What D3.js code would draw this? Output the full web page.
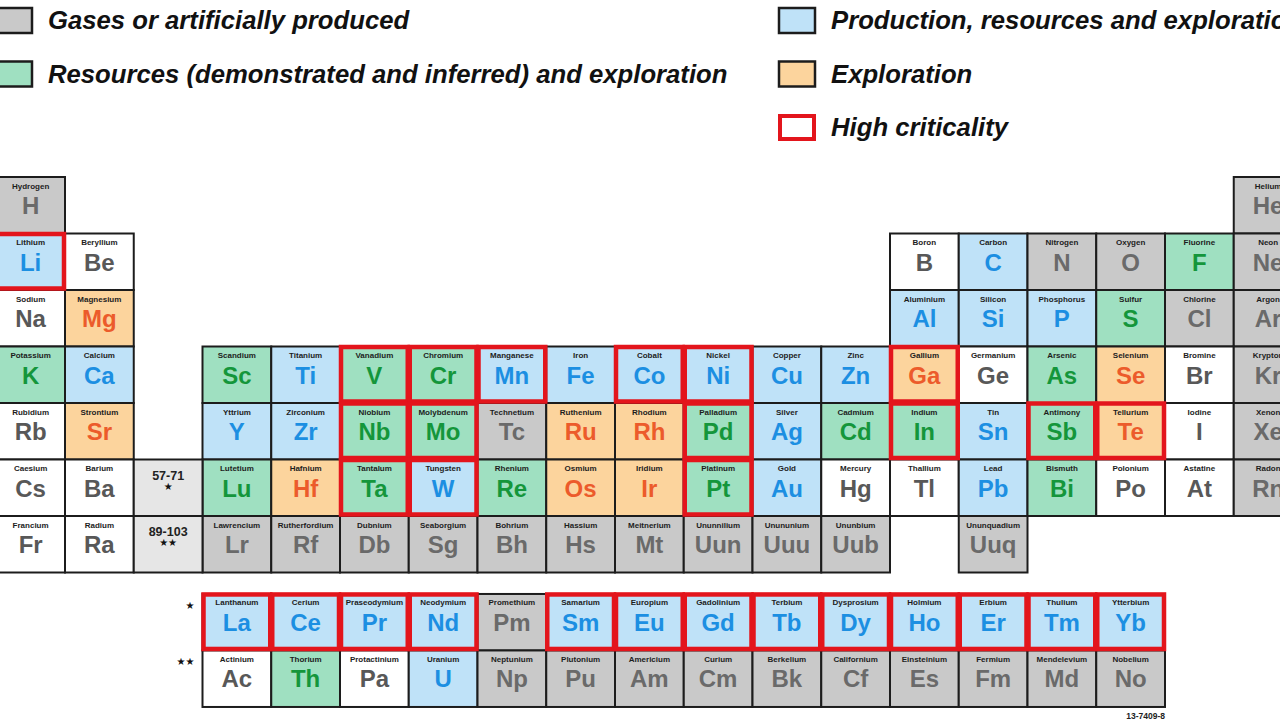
<!DOCTYPE html>
<html><head><meta charset="utf-8">
<script src="https://cdn.jsdelivr.net/npm/d3@7"></script>
<style>
html,body{margin:0;padding:0;background:#fff;overflow:hidden;}
svg{display:block;font-family:"Liberation Sans",Arial,Helvetica,sans-serif;}
</style></head><body>
<svg id="chart" width="1280" height="720"></svg>
<script>
// ---- data ----
const symbols = ["H","He",
 "Li","Be","B","C","N","O","F","Ne",
 "Na","Mg","Al","Si","P","S","Cl","Ar",
 "K","Ca","Sc","Ti","V","Cr","Mn","Fe","Co","Ni","Cu","Zn","Ga","Ge","As","Se","Br","Kr",
 "Rb","Sr","Y","Zr","Nb","Mo","Tc","Ru","Rh","Pd","Ag","Cd","In","Sn","Sb","Te","I","Xe",
 "Cs","Ba","Lu","Hf","Ta","W","Re","Os","Ir","Pt","Au","Hg","Tl","Pb","Bi","Po","At","Rn",
 "Fr","Ra","Lr","Rf","Db","Sg","Bh","Hs","Mt","Uun","Uuu","Uub","Uuq"];
const names = ["Hydrogen","Helium",
 "Lithium","Beryllium","Boron","Carbon","Nitrogen","Oxygen","Fluorine","Neon",
 "Sodium","Magnesium","Aluminium","Silicon","Phosphorus","Sulfur","Chlorine","Argon",
 "Potassium","Calcium","Scandium","Titanium","Vanadium","Chromium","Manganese","Iron","Cobalt","Nickel","Copper","Zinc","Gallium","Germanium","Arsenic","Selenium","Bromine","Krypton",
 "Rubidium","Strontium","Yttrium","Zirconium","Niobium","Molybdenum","Technetium","Ruthenium","Rhodium","Palladium","Silver","Cadmium","Indium","Tin","Antimony","Tellurium","Iodine","Xenon",
 "Caesium","Barium","Lutetium","Hafnium","Tantalum","Tungsten","Rhenium","Osmium","Iridium","Platinum","Gold","Mercury","Thallium","Lead","Bismuth","Polonium","Astatine","Radon",
 "Francium","Radium","Lawrencium","Rutherfordium","Dubnium","Seaborgium","Bohrium","Hassium","Meitnerium","Ununnilium","Unununium","Ununbium","Ununquadium"];
const groups = [0,18,
 0,1,13,14,15,16,17,18,
 0,1,13,14,15,16,17,18,
 0,1,3,4,5,6,7,8,9,10,11,12,13,14,15,16,17,18,
 0,1,3,4,5,6,7,8,9,10,11,12,13,14,15,16,17,18,
 0,1,3,4,5,6,7,8,9,10,11,12,13,14,15,16,17,18,
 0,1,3,4,5,6,7,8,9,10,11,12,14];
const periods = [0,0,
 1,1,1,1,1,1,1,1,
 2,2,2,2,2,2,2,2,
 3,3,3,3,3,3,3,3,3,3,3,3,3,3,3,3,3,3,
 4,4,4,4,4,4,4,4,4,4,4,4,4,4,4,4,4,4,
 5,5,5,5,5,5,5,5,5,5,5,5,5,5,5,5,5,5,
 6,6,6,6,6,6,6,6,6,6,6,6,6];
// G = gases/artificial, P = production, R = resources, E = exploration, N = none
const classes = ["G","G",
 "P","N","N","P","G","G","R","G",
 "N","E","P","P","P","R","G","G",
 "R","P","R","P","R","R","P","P","P","P","P","P","E","N","R","E","N","G",
 "N","E","P","P","R","R","G","E","E","R","P","R","R","P","R","E","N","G",
 "N","N","R","E","R","P","R","E","E","R","P","N","N","P","R","N","N","G",
 "N","N","G","G","G","G","G","G","G","G","G","G","G"];

const lanthanideSymbols = ["La","Ce","Pr","Nd","Pm","Sm","Eu","Gd","Tb","Dy","Ho","Er","Tm","Yb"];
const lanthanideNames = ["Lanthanum","Cerium","Praseodymium","Neodymium","Promethium","Samarium","Europium","Gadolinium","Terbium","Dysprosium","Holmium","Erbium","Thulium","Ytterbium"];
const lanthanideClasses = ["P","P","P","P","G","P","P","P","P","P","P","P","P","P"];
const actinideSymbols = ["Ac","Th","Pa","U","Np","Pu","Am","Cm","Bk","Cf","Es","Fm","Md","No"];
const actinideNames = ["Actinium","Thorium","Protactinium","Uranium","Neptunium","Plutonium","Americium","Curium","Berkelium","Californium","Einsteinium","Fermium","Mendelevium","Nobelium"];
const actinideClasses = ["N","R","N","P","G","G","G","G","G","G","G","G","G","G"];

const highCriticality = ["Li","V","Cr","Mn","Co","Ni","Ga","Nb","Mo","Pd","In","Sb","Te","Ta","W","Pt",
 "La","Ce","Pr","Nd","Sm","Eu","Gd","Tb","Dy","Ho","Er","Tm","Yb"];

const placeholderLabels = ["57-71","89-103"];
const placeholderMarks = ["★","★★"];

const legendLeftLabels = ["Gases or artificially produced","Resources (demonstrated and inferred) and exploration"];
const legendLeftClasses = ["G","R"];
const legendRightLabels = ["Production, resources and exploration","Exploration","High criticality"];
const legendRightClasses = ["P","E","C"];
const figureCode = "13-7409-8";

// ---- styles ----
const fillColor = {G:"#c9c9c9",P:"#bfe2f8",R:"#9fe0c1",E:"#fcd49d",N:"#ffffff"};
const textColor = {G:"#6a6a6a",P:"#1c8fe2",R:"#14963b",E:"#ec5b2b",N:"#585858"};
const RED = "#e3151c";

// ---- scales ----
const cellW = 68.75, cellH = 56.5;
const x = d3.scaleLinear().domain([0,19]).range([-3.75, -3.75 + 19*cellW]);
const y = d3.scaleLinear().domain([0,9]).range([177, 177 + 9*cellH]);
const fOffset = 0.38; // gap before f-block rows, in row units

const svg = d3.select("#chart");

// combine into records
const main = symbols.map((s,i)=>({sym:s,name:names[i],g:groups[i],p:periods[i],c:classes[i]}));
const fblock = lanthanideSymbols.map((s,i)=>({sym:s,name:lanthanideNames[i],g:3+i,p:7+fOffset,c:lanthanideClasses[i]}))
  .concat(actinideSymbols.map((s,i)=>({sym:s,name:actinideNames[i],g:3+i,p:8+fOffset,c:actinideClasses[i]})));
const all = main.concat(fblock);

const cells = svg.append("g").selectAll("g.cell").data(all).join("g")
  .attr("class","cell")
  .attr("transform",d=>`translate(${x(d.g)},${y(d.p)})`);
cells.append("rect").attr("width",cellW).attr("height",cellH)
  .attr("fill",d=>fillColor[d.c]).attr("stroke","#1c1c1c").attr("stroke-width",2);
cells.append("text").attr("x",cellW/2).attr("y",11.5).attr("text-anchor","middle")
  .attr("font-size",8).attr("font-weight","bold").attr("fill","#1d1d1d")
  .text(d=>d.name)
  .each(function(){
    const w = this.getComputedTextLength();
    if (w > cellW-8) { d3.select(this).attr("textLength",cellW-8).attr("lengthAdjust","spacingAndGlyphs"); }
  });
cells.append("text").attr("x",cellW/2).attr("y",37).attr("text-anchor","middle")
  .attr("font-size",24).attr("font-weight","bold").attr("fill",d=>textColor[d.c])
  .text(d=>d.sym);

// placeholder cells
const ph = svg.append("g").selectAll("g").data(placeholderLabels).join("g")
  .attr("transform",(d,i)=>`translate(${x(2)},${y(5+i)})`);
ph.append("rect").attr("width",cellW).attr("height",cellH).attr("fill","#e6e6e6")
  .attr("stroke","#1c1c1c").attr("stroke-width",2);
ph.append("text").attr("x",cellW/2).attr("y",20).attr("text-anchor","middle")
  .attr("font-size",12.5).attr("font-weight","bold").attr("fill","#222").text(d=>d);
ph.append("text").attr("x",cellW/2).attr("y",30).attr("text-anchor","middle")
  .attr("font-size",10).attr("fill","#111").attr("font-family","DejaVu Sans")
  .text((d,i)=>placeholderMarks[i]);

// f-block row marks
svg.append("g").selectAll("text").data(placeholderMarks).join("text")
  .attr("x",x(3)-8).attr("y",(d,i)=>y(7+fOffset+i)+15).attr("text-anchor","end")
  .attr("font-size",10).attr("fill","#111").attr("font-family","DejaVu Sans").text(d=>d);

// high criticality borders
svg.append("g").selectAll("rect").data(all.filter(d=>highCriticality.includes(d.sym))).join("rect")
  .attr("x",d=>x(d.g)+1).attr("y",d=>y(d.p)+0.5)
  .attr("width",cellW-2).attr("height",cellH-2)
  .attr("fill","none").attr("stroke",RED).attr("stroke-width",4.5);

// legend
function legendSwatch(g, cls){
  if(cls==="C"){
    g.append("rect").attr("x",2).attr("y",2).attr("width",34).attr("height",23)
      .attr("fill","#fff").attr("stroke",RED).attr("stroke-width",4);
  } else {
    g.append("rect").attr("x",1).attr("y",1).attr("width",36).attr("height",25)
      .attr("fill",fillColor[cls]).attr("stroke","#1c1c1c").attr("stroke-width",2.5);
  }
}
const legL = svg.append("g").selectAll("g").data(legendLeftLabels).join("g")
  .attr("transform",(d,i)=>`translate(-5,${7+i*53.5})`);
legL.each(function(d,i){legendSwatch(d3.select(this),legendLeftClasses[i]);});
legL.append("text").attr("x",53).attr("y",22).attr("font-size",25.7).attr("font-weight","bold")
  .attr("font-style","italic").attr("fill","#111").text(d=>d);

const legR = svg.append("g").selectAll("g").data(legendRightLabels).join("g")
  .attr("transform",(d,i)=>`translate(778,${7+i*53.5})`);
legR.each(function(d,i){legendSwatch(d3.select(this),legendRightClasses[i]);});
legR.append("text").attr("x",53).attr("y",22).attr("font-size",25.7).attr("font-weight","bold")
  .attr("font-style","italic").attr("fill","#111").text(d=>d);

svg.append("text").attr("x",x(17)).attr("y",y(9+fOffset)+12).attr("text-anchor","end")
  .attr("font-size",8.5).attr("font-weight","bold").attr("fill","#222").text(figureCode);
</script>
</body></html>
